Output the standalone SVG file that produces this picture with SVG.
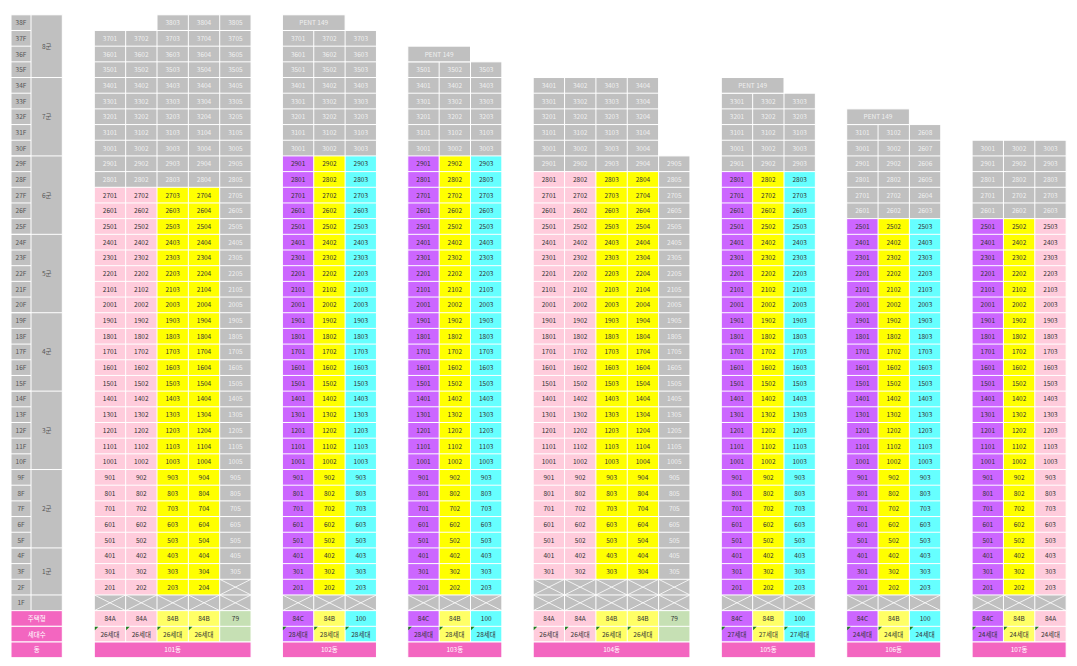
<svg xmlns="http://www.w3.org/2000/svg" xmlns:xlink="http://www.w3.org/1999/xlink" width="1077" height="666" viewBox="0 0 1077 666">
<style>
.g{fill:#c0c0c0}.pk{fill:#ffccdc}.ye{fill:#ffff00}.ly{fill:#ffff66}.pu{fill:#cc66ff}.cy{fill:#66ffff}.gr{fill:#c6e0b4}.mg{fill:#f366c0}
.s{stroke:#fff;stroke-width:1}
.gl{stroke:#fff;stroke-width:1;fill:none}
text{font-family:"Noto Sans CJK KR","Noto Sans",sans-serif;font-size:6.5px;text-anchor:middle}
.d{fill:#333}.l{fill:#f0f0f0}.w{fill:#fff}.f{fill:#555}
</style>
<defs>
<g id="xc"><rect width="31.35" height="15.68" fill="#c0c0c0"/><path d="M0 0L31.35 15.68M31.35 0L0 15.68" stroke="#fff" stroke-width="0.8"/></g>
<path id="tri" d="M0.5 0.5h3.5l-3.5 3.5z" fill="#1b7f1b"/>
<g id="g3" class="gl"><path d="M0 14.8V657.68M31.35 14.8V657.68M62.7 14.8V657.68M94.05 14.8V657.68"/><path d="M0 14.8h94.05m-94.05 15.68h94.05m-94.05 15.68h94.05m-94.05 15.68h94.05m-94.05 15.68h94.05m-94.05 15.68h94.05m-94.05 15.68h94.05m-94.05 15.68h94.05m-94.05 15.68h94.05m-94.05 15.68h94.05m-94.05 15.68h94.05m-94.05 15.68h94.05m-94.05 15.68h94.05m-94.05 15.68h94.05m-94.05 15.68h94.05m-94.05 15.68h94.05m-94.05 15.68h94.05m-94.05 15.68h94.05m-94.05 15.68h94.05m-94.05 15.68h94.05m-94.05 15.68h94.05m-94.05 15.68h94.05m-94.05 15.68h94.05m-94.05 15.68h94.05m-94.05 15.68h94.05m-94.05 15.68h94.05m-94.05 15.68h94.05m-94.05 15.68h94.05m-94.05 15.68h94.05m-94.05 15.68h94.05m-94.05 15.68h94.05m-94.05 15.68h94.05m-94.05 15.68h94.05m-94.05 15.68h94.05m-94.05 15.68h94.05m-94.05 15.68h94.05m-94.05 15.68h94.05m-94.05 15.68h94.05m-94.05 15.68h94.05m-94.05 15.68h94.05m-94.05 15.68h94.05m-94.05 15.68h94.05"/></g>
<g id="g5" class="gl"><path d="M0 14.8V657.68M31.35 14.8V657.68M62.7 14.8V657.68M94.05 14.8V657.68M125.4 14.8V657.68M156.75 14.8V657.68"/><path d="M0 14.8h156.75m-156.75 15.68h156.75m-156.75 15.68h156.75m-156.75 15.68h156.75m-156.75 15.68h156.75m-156.75 15.68h156.75m-156.75 15.68h156.75m-156.75 15.68h156.75m-156.75 15.68h156.75m-156.75 15.68h156.75m-156.75 15.68h156.75m-156.75 15.68h156.75m-156.75 15.68h156.75m-156.75 15.68h156.75m-156.75 15.68h156.75m-156.75 15.68h156.75m-156.75 15.68h156.75m-156.75 15.68h156.75m-156.75 15.68h156.75m-156.75 15.68h156.75m-156.75 15.68h156.75m-156.75 15.68h156.75m-156.75 15.68h156.75m-156.75 15.68h156.75m-156.75 15.68h156.75m-156.75 15.68h156.75m-156.75 15.68h156.75m-156.75 15.68h156.75m-156.75 15.68h156.75m-156.75 15.68h156.75m-156.75 15.68h156.75m-156.75 15.68h156.75m-156.75 15.68h156.75m-156.75 15.68h156.75m-156.75 15.68h156.75m-156.75 15.68h156.75m-156.75 15.68h156.75m-156.75 15.68h156.75m-156.75 15.68h156.75m-156.75 15.68h156.75m-156.75 15.68h156.75m-156.75 15.68h156.75"/></g>
</defs>
<rect width="1077" height="666" fill="#fff"/>

<g id="legend">
<rect class="g" x="11" y="14.8" width="51.3" height="595.84"/>
<path class="gl" d="M11 14.8V610.64M31 14.8V610.64M62.3 14.8V610.64M11 30.48h20m-20 15.68h20m-20 15.68h20m-20 15.68h20m-20 15.68h20m-20 15.68h20m-20 15.68h20m-20 15.68h20m-20 15.68h20m-20 15.68h20m-20 15.68h20m-20 15.68h20m-20 15.68h20m-20 15.68h20m-20 15.68h20m-20 15.68h20m-20 15.68h20m-20 15.68h20m-20 15.68h20m-20 15.68h20m-20 15.68h20m-20 15.68h20m-20 15.68h20m-20 15.68h20m-20 15.68h20m-20 15.68h20m-20 15.68h20m-20 15.68h20m-20 15.68h20m-20 15.68h20m-20 15.68h20m-20 15.68h20m-20 15.68h20m-20 15.68h20m-20 15.68h20m-20 15.68h20M11 14.8H62.3M11 77.52H62.3M11 155.92H62.3M11 234.32H62.3M11 312.72H62.3M11 391.12H62.3M11 469.52H62.3M11 547.92H62.3M11 594.96H62.3"/>
<rect class="mg s" x="11" y="610.64" width="51.3" height="15.68"/>
<rect class="mg s" x="11" y="626.32" width="51.3" height="15.68"/>
<rect class="mg s" x="11" y="642" width="51.3" height="15.68"/>
<g class="f" transform="translate(21,0)"><text y="25.1">38F</text><text y="40.8">37F</text><text y="56.5">36F</text><text y="72.1">35F</text><text y="87.8">34F</text><text y="103.5">33F</text><text y="119.2">32F</text><text y="134.9">31F</text><text y="150.5">30F</text><text y="166.2">29F</text><text y="181.9">28F</text><text y="197.6">27F</text><text y="213.3">26F</text><text y="228.9">25F</text><text y="244.6">24F</text><text y="260.3">23F</text><text y="276">22F</text><text y="291.7">21F</text><text y="307.3">20F</text><text y="323">19F</text><text y="338.7">18F</text><text y="354.4">17F</text><text y="370.1">16F</text><text y="385.7">15F</text><text y="401.4">14F</text><text y="417.1">13F</text><text y="432.8">12F</text><text y="448.5">11F</text><text y="464.1">10F</text><text y="479.8">9F</text><text y="495.5">8F</text><text y="511.2">7F</text><text y="526.9">6F</text><text y="542.5">5F</text><text y="558.2">4F</text><text y="573.9">3F</text><text y="589.6">2F</text><text y="605.3">1F</text></g>
<g class="f" transform="translate(46.7,0)"><text y="48.6">8군</text><text y="119.2">7군</text><text y="197.6">6군</text><text y="276">5군</text><text y="354.4">4군</text><text y="432.8">3군</text><text y="511.2">2군</text><text y="573.9">1군</text></g>
<g class="w" transform="translate(36.7,0)"><text y="620.9">주택형</text><text y="636.6">세대수</text><text y="652.3">동</text></g>
</g>

<g id="b101" transform="translate(94.3,0)">
<rect class="g" x="62.7" y="14.8" width="94.05" height="15.68"/>
<rect class="g" y="30.48" width="156.75" height="156.8"/>
<rect class="pk" y="187.28" width="62.7" height="407.68"/>
<rect class="ye" x="62.7" y="187.28" width="62.7" height="407.68"/>
<rect class="g" x="125.4" y="187.28" width="31.35" height="392"/>
<use href="#xc" x="125.4" y="579.28"/>
<use href="#xc" y="594.96"/><use href="#xc" x="31.35" y="594.96"/><use href="#xc" x="62.7" y="594.96"/><use href="#xc" x="94.05" y="594.96"/><use href="#xc" x="125.4" y="594.96"/>
<rect class="pk" y="610.64" width="62.7" height="31.36"/>
<rect class="ly" x="62.7" y="610.64" width="62.7" height="31.36"/>
<rect class="gr" x="125.4" y="610.64" width="31.35" height="31.36"/>
<use href="#g5"/>
<rect class="mg s" y="642" width="156.75" height="15.68"/>
<use href="#tri" y="626.32"/><use href="#tri" x="31.35" y="626.32"/><use href="#tri" x="62.7" y="626.32"/><use href="#tri" x="94.05" y="626.32"/>
<g class="l" transform="translate(15.7,0)"><text y="40.8">3701</text><text y="56.5">3601</text><text y="72.1">3501</text><text y="87.8">3401</text><text y="103.5">3301</text><text y="119.2">3201</text><text y="134.9">3101</text><text y="150.5">3001</text><text y="166.2">2901</text><text y="181.9">2801</text></g>
<g class="d" transform="translate(15.7,0)"><text y="197.6">2701</text><text y="213.3">2601</text><text y="228.9">2501</text><text y="244.6">2401</text><text y="260.3">2301</text><text y="276">2201</text><text y="291.7">2101</text><text y="307.3">2001</text><text y="323">1901</text><text y="338.7">1801</text><text y="354.4">1701</text><text y="370.1">1601</text><text y="385.7">1501</text><text y="401.4">1401</text><text y="417.1">1301</text><text y="432.8">1201</text><text y="448.5">1101</text><text y="464.1">1001</text><text y="479.8">901</text><text y="495.5">801</text><text y="511.2">701</text><text y="526.9">601</text><text y="542.5">501</text><text y="558.2">401</text><text y="573.9">301</text><text y="589.6">201</text><text y="620.9">84A</text><text y="636.6">26세대</text></g>
<g class="l" transform="translate(47,0)"><text y="40.8">3702</text><text y="56.5">3602</text><text y="72.1">3502</text><text y="87.8">3402</text><text y="103.5">3302</text><text y="119.2">3202</text><text y="134.9">3102</text><text y="150.5">3002</text><text y="166.2">2902</text><text y="181.9">2802</text></g>
<g class="d" transform="translate(47,0)"><text y="197.6">2702</text><text y="213.3">2602</text><text y="228.9">2502</text><text y="244.6">2402</text><text y="260.3">2302</text><text y="276">2202</text><text y="291.7">2102</text><text y="307.3">2002</text><text y="323">1902</text><text y="338.7">1802</text><text y="354.4">1702</text><text y="370.1">1602</text><text y="385.7">1502</text><text y="401.4">1402</text><text y="417.1">1302</text><text y="432.8">1202</text><text y="448.5">1102</text><text y="464.1">1002</text><text y="479.8">902</text><text y="495.5">802</text><text y="511.2">702</text><text y="526.9">602</text><text y="542.5">502</text><text y="558.2">402</text><text y="573.9">302</text><text y="589.6">202</text><text y="620.9">84A</text><text y="636.6">26세대</text></g>
<g class="l" transform="translate(78.4,0)"><text y="25.1">3803</text><text y="40.8">3703</text><text y="56.5">3603</text><text y="72.1">3503</text><text y="87.8">3403</text><text y="103.5">3303</text><text y="119.2">3203</text><text y="134.9">3103</text><text y="150.5">3003</text><text y="166.2">2903</text><text y="181.9">2803</text></g>
<g class="d" transform="translate(78.4,0)"><text y="197.6">2703</text><text y="213.3">2603</text><text y="228.9">2503</text><text y="244.6">2403</text><text y="260.3">2303</text><text y="276">2203</text><text y="291.7">2103</text><text y="307.3">2003</text><text y="323">1903</text><text y="338.7">1803</text><text y="354.4">1703</text><text y="370.1">1603</text><text y="385.7">1503</text><text y="401.4">1403</text><text y="417.1">1303</text><text y="432.8">1203</text><text y="448.5">1103</text><text y="464.1">1003</text><text y="479.8">903</text><text y="495.5">803</text><text y="511.2">703</text><text y="526.9">603</text><text y="542.5">503</text><text y="558.2">403</text><text y="573.9">303</text><text y="589.6">203</text><text y="620.9">84B</text><text y="636.6">26세대</text></g>
<g class="l" transform="translate(109.7,0)"><text y="25.1">3804</text><text y="40.8">3704</text><text y="56.5">3604</text><text y="72.1">3504</text><text y="87.8">3404</text><text y="103.5">3304</text><text y="119.2">3204</text><text y="134.9">3104</text><text y="150.5">3004</text><text y="166.2">2904</text><text y="181.9">2804</text></g>
<g class="d" transform="translate(109.7,0)"><text y="197.6">2704</text><text y="213.3">2604</text><text y="228.9">2504</text><text y="244.6">2404</text><text y="260.3">2304</text><text y="276">2204</text><text y="291.7">2104</text><text y="307.3">2004</text><text y="323">1904</text><text y="338.7">1804</text><text y="354.4">1704</text><text y="370.1">1604</text><text y="385.7">1504</text><text y="401.4">1404</text><text y="417.1">1304</text><text y="432.8">1204</text><text y="448.5">1104</text><text y="464.1">1004</text><text y="479.8">904</text><text y="495.5">804</text><text y="511.2">704</text><text y="526.9">604</text><text y="542.5">504</text><text y="558.2">404</text><text y="573.9">304</text><text y="589.6">204</text><text y="620.9">84B</text><text y="636.6">26세대</text></g>
<g class="l" transform="translate(141.1,0)"><text y="25.1">3805</text><text y="40.8">3705</text><text y="56.5">3605</text><text y="72.1">3505</text><text y="87.8">3405</text><text y="103.5">3305</text><text y="119.2">3205</text><text y="134.9">3105</text><text y="150.5">3005</text><text y="166.2">2905</text><text y="181.9">2805</text><text y="197.6">2705</text><text y="213.3">2605</text><text y="228.9">2505</text><text y="244.6">2405</text><text y="260.3">2305</text><text y="276">2205</text><text y="291.7">2105</text><text y="307.3">2005</text><text y="323">1905</text><text y="338.7">1805</text><text y="354.4">1705</text><text y="370.1">1605</text><text y="385.7">1505</text><text y="401.4">1405</text><text y="417.1">1305</text><text y="432.8">1205</text><text y="448.5">1105</text><text y="464.1">1005</text><text y="479.8">905</text><text y="495.5">805</text><text y="511.2">705</text><text y="526.9">605</text><text y="542.5">505</text><text y="558.2">405</text><text y="573.9">305</text></g>
<text class="d" x="141.1" y="620.9">79</text>
<text class="w" x="78.4" y="652.3">101동</text>
</g>

<g id="b102" transform="translate(282.4,0)">
<rect class="g" y="30.48" width="94.05" height="125.44"/>
<rect class="pu" y="155.92" width="31.35" height="439.04"/>
<rect class="ye" x="31.35" y="155.92" width="31.35" height="439.04"/>
<rect class="cy" x="62.7" y="155.92" width="31.35" height="439.04"/>
<use href="#xc" y="594.96"/><use href="#xc" x="31.35" y="594.96"/><use href="#xc" x="62.7" y="594.96"/>
<rect class="pu" y="610.64" width="31.35" height="31.36"/>
<rect class="ly" x="31.35" y="610.64" width="31.35" height="31.36"/>
<rect class="cy" x="62.7" y="610.64" width="31.35" height="31.36"/>
<use href="#g3"/>
<rect class="g s" y="14.8" width="62.7" height="15.68"/>
<rect class="mg s" y="642" width="94.05" height="15.68"/>
<use href="#tri" y="626.32"/><use href="#tri" x="31.35" y="626.32"/><use href="#tri" x="62.7" y="626.32"/>
<text class="l" x="31.35" y="25.1">PENT 149</text>
<g class="l" transform="translate(15.7,0)"><text y="40.8">3701</text><text y="56.5">3601</text><text y="72.1">3501</text><text y="87.8">3401</text><text y="103.5">3301</text><text y="119.2">3201</text><text y="134.9">3101</text><text y="150.5">3001</text></g>
<g class="d" transform="translate(15.7,0)"><text y="166.2">2901</text><text y="181.9">2801</text><text y="197.6">2701</text><text y="213.3">2601</text><text y="228.9">2501</text><text y="244.6">2401</text><text y="260.3">2301</text><text y="276">2201</text><text y="291.7">2101</text><text y="307.3">2001</text><text y="323">1901</text><text y="338.7">1801</text><text y="354.4">1701</text><text y="370.1">1601</text><text y="385.7">1501</text><text y="401.4">1401</text><text y="417.1">1301</text><text y="432.8">1201</text><text y="448.5">1101</text><text y="464.1">1001</text><text y="479.8">901</text><text y="495.5">801</text><text y="511.2">701</text><text y="526.9">601</text><text y="542.5">501</text><text y="558.2">401</text><text y="573.9">301</text><text y="589.6">201</text><text y="620.9">84C</text><text y="636.6">28세대</text></g>
<g class="l" transform="translate(47,0)"><text y="40.8">3702</text><text y="56.5">3602</text><text y="72.1">3502</text><text y="87.8">3402</text><text y="103.5">3302</text><text y="119.2">3202</text><text y="134.9">3102</text><text y="150.5">3002</text></g>
<g class="d" transform="translate(47,0)"><text y="166.2">2902</text><text y="181.9">2802</text><text y="197.6">2702</text><text y="213.3">2602</text><text y="228.9">2502</text><text y="244.6">2402</text><text y="260.3">2302</text><text y="276">2202</text><text y="291.7">2102</text><text y="307.3">2002</text><text y="323">1902</text><text y="338.7">1802</text><text y="354.4">1702</text><text y="370.1">1602</text><text y="385.7">1502</text><text y="401.4">1402</text><text y="417.1">1302</text><text y="432.8">1202</text><text y="448.5">1102</text><text y="464.1">1002</text><text y="479.8">902</text><text y="495.5">802</text><text y="511.2">702</text><text y="526.9">602</text><text y="542.5">502</text><text y="558.2">402</text><text y="573.9">302</text><text y="589.6">202</text><text y="620.9">84B</text><text y="636.6">28세대</text></g>
<g class="l" transform="translate(78.4,0)"><text y="40.8">3703</text><text y="56.5">3603</text><text y="72.1">3503</text><text y="87.8">3403</text><text y="103.5">3303</text><text y="119.2">3203</text><text y="134.9">3103</text><text y="150.5">3003</text></g>
<g class="d" transform="translate(78.4,0)"><text y="166.2">2903</text><text y="181.9">2803</text><text y="197.6">2703</text><text y="213.3">2603</text><text y="228.9">2503</text><text y="244.6">2403</text><text y="260.3">2303</text><text y="276">2203</text><text y="291.7">2103</text><text y="307.3">2003</text><text y="323">1903</text><text y="338.7">1803</text><text y="354.4">1703</text><text y="370.1">1603</text><text y="385.7">1503</text><text y="401.4">1403</text><text y="417.1">1303</text><text y="432.8">1203</text><text y="448.5">1103</text><text y="464.1">1003</text><text y="479.8">903</text><text y="495.5">803</text><text y="511.2">703</text><text y="526.9">603</text><text y="542.5">503</text><text y="558.2">403</text><text y="573.9">303</text><text y="589.6">203</text><text y="620.9">100</text><text y="636.6">28세대</text></g>
<text class="w" x="47" y="652.3">102동</text>
</g>

<g id="b103" transform="translate(407.8,0)">
<rect class="g" y="61.84" width="94.05" height="94.08"/>
<rect class="pu" y="155.92" width="31.35" height="439.04"/>
<rect class="ye" x="31.35" y="155.92" width="31.35" height="439.04"/>
<rect class="cy" x="62.7" y="155.92" width="31.35" height="439.04"/>
<use href="#xc" y="594.96"/><use href="#xc" x="31.35" y="594.96"/><use href="#xc" x="62.7" y="594.96"/>
<rect class="pu" y="610.64" width="31.35" height="31.36"/>
<rect class="ly" x="31.35" y="610.64" width="31.35" height="31.36"/>
<rect class="cy" x="62.7" y="610.64" width="31.35" height="31.36"/>
<use href="#g3"/>
<rect class="g s" y="46.16" width="62.7" height="15.68"/>
<rect class="mg s" y="642" width="94.05" height="15.68"/>
<use href="#tri" y="626.32"/><use href="#tri" x="31.35" y="626.32"/><use href="#tri" x="62.7" y="626.32"/>
<text class="l" x="31.35" y="56.5">PENT 149</text>
<g class="l" transform="translate(15.7,0)"><text y="72.1">3501</text><text y="87.8">3401</text><text y="103.5">3301</text><text y="119.2">3201</text><text y="134.9">3101</text><text y="150.5">3001</text></g>
<g class="d" transform="translate(15.7,0)"><text y="166.2">2901</text><text y="181.9">2801</text><text y="197.6">2701</text><text y="213.3">2601</text><text y="228.9">2501</text><text y="244.6">2401</text><text y="260.3">2301</text><text y="276">2201</text><text y="291.7">2101</text><text y="307.3">2001</text><text y="323">1901</text><text y="338.7">1801</text><text y="354.4">1701</text><text y="370.1">1601</text><text y="385.7">1501</text><text y="401.4">1401</text><text y="417.1">1301</text><text y="432.8">1201</text><text y="448.5">1101</text><text y="464.1">1001</text><text y="479.8">901</text><text y="495.5">801</text><text y="511.2">701</text><text y="526.9">601</text><text y="542.5">501</text><text y="558.2">401</text><text y="573.9">301</text><text y="589.6">201</text><text y="620.9">84C</text><text y="636.6">28세대</text></g>
<g class="l" transform="translate(47,0)"><text y="72.1">3502</text><text y="87.8">3402</text><text y="103.5">3302</text><text y="119.2">3202</text><text y="134.9">3102</text><text y="150.5">3002</text></g>
<g class="d" transform="translate(47,0)"><text y="166.2">2902</text><text y="181.9">2802</text><text y="197.6">2702</text><text y="213.3">2602</text><text y="228.9">2502</text><text y="244.6">2402</text><text y="260.3">2302</text><text y="276">2202</text><text y="291.7">2102</text><text y="307.3">2002</text><text y="323">1902</text><text y="338.7">1802</text><text y="354.4">1702</text><text y="370.1">1602</text><text y="385.7">1502</text><text y="401.4">1402</text><text y="417.1">1302</text><text y="432.8">1202</text><text y="448.5">1102</text><text y="464.1">1002</text><text y="479.8">902</text><text y="495.5">802</text><text y="511.2">702</text><text y="526.9">602</text><text y="542.5">502</text><text y="558.2">402</text><text y="573.9">302</text><text y="589.6">202</text><text y="620.9">84B</text><text y="636.6">28세대</text></g>
<g class="l" transform="translate(78.4,0)"><text y="72.1">3503</text><text y="87.8">3403</text><text y="103.5">3303</text><text y="119.2">3203</text><text y="134.9">3103</text><text y="150.5">3003</text></g>
<g class="d" transform="translate(78.4,0)"><text y="166.2">2903</text><text y="181.9">2803</text><text y="197.6">2703</text><text y="213.3">2603</text><text y="228.9">2503</text><text y="244.6">2403</text><text y="260.3">2303</text><text y="276">2203</text><text y="291.7">2103</text><text y="307.3">2003</text><text y="323">1903</text><text y="338.7">1803</text><text y="354.4">1703</text><text y="370.1">1603</text><text y="385.7">1503</text><text y="401.4">1403</text><text y="417.1">1303</text><text y="432.8">1203</text><text y="448.5">1103</text><text y="464.1">1003</text><text y="479.8">903</text><text y="495.5">803</text><text y="511.2">703</text><text y="526.9">603</text><text y="542.5">503</text><text y="558.2">403</text><text y="573.9">303</text><text y="589.6">203</text><text y="620.9">100</text><text y="636.6">28세대</text></g>
<text class="w" x="47" y="652.3">103동</text>
</g>

<g id="b104" transform="translate(533.2,0)">
<rect class="g" y="77.52" width="125.4" height="78.4"/>
<rect class="g" y="155.92" width="156.75" height="15.68"/>
<rect class="pk" y="171.6" width="62.7" height="407.68"/>
<rect class="ye" x="62.7" y="171.6" width="62.7" height="407.68"/>
<rect class="g" x="125.4" y="171.6" width="31.35" height="407.68"/>
<use href="#xc" y="579.28"/><use href="#xc" x="31.35" y="579.28"/><use href="#xc" x="62.7" y="579.28"/><use href="#xc" x="94.05" y="579.28"/><use href="#xc" x="125.4" y="579.28"/>
<use href="#xc" y="594.96"/><use href="#xc" x="31.35" y="594.96"/><use href="#xc" x="62.7" y="594.96"/><use href="#xc" x="94.05" y="594.96"/><use href="#xc" x="125.4" y="594.96"/>
<rect class="pk" y="610.64" width="62.7" height="31.36"/>
<rect class="ly" x="62.7" y="610.64" width="62.7" height="31.36"/>
<rect class="gr" x="125.4" y="610.64" width="31.35" height="31.36"/>
<use href="#g5"/>
<rect class="mg s" y="642" width="156.75" height="15.68"/>
<use href="#tri" y="626.32"/><use href="#tri" x="31.35" y="626.32"/><use href="#tri" x="62.7" y="626.32"/><use href="#tri" x="94.05" y="626.32"/>
<g class="l" transform="translate(15.7,0)"><text y="87.8">3401</text><text y="103.5">3301</text><text y="119.2">3201</text><text y="134.9">3101</text><text y="150.5">3001</text><text y="166.2">2901</text></g>
<g class="d" transform="translate(15.7,0)"><text y="181.9">2801</text><text y="197.6">2701</text><text y="213.3">2601</text><text y="228.9">2501</text><text y="244.6">2401</text><text y="260.3">2301</text><text y="276">2201</text><text y="291.7">2101</text><text y="307.3">2001</text><text y="323">1901</text><text y="338.7">1801</text><text y="354.4">1701</text><text y="370.1">1601</text><text y="385.7">1501</text><text y="401.4">1401</text><text y="417.1">1301</text><text y="432.8">1201</text><text y="448.5">1101</text><text y="464.1">1001</text><text y="479.8">901</text><text y="495.5">801</text><text y="511.2">701</text><text y="526.9">601</text><text y="542.5">501</text><text y="558.2">401</text><text y="573.9">301</text><text y="620.9">84A</text><text y="636.6">26세대</text></g>
<g class="l" transform="translate(47,0)"><text y="87.8">3402</text><text y="103.5">3302</text><text y="119.2">3202</text><text y="134.9">3102</text><text y="150.5">3002</text><text y="166.2">2902</text></g>
<g class="d" transform="translate(47,0)"><text y="181.9">2802</text><text y="197.6">2702</text><text y="213.3">2602</text><text y="228.9">2502</text><text y="244.6">2402</text><text y="260.3">2302</text><text y="276">2202</text><text y="291.7">2102</text><text y="307.3">2002</text><text y="323">1902</text><text y="338.7">1802</text><text y="354.4">1702</text><text y="370.1">1602</text><text y="385.7">1502</text><text y="401.4">1402</text><text y="417.1">1302</text><text y="432.8">1202</text><text y="448.5">1102</text><text y="464.1">1002</text><text y="479.8">902</text><text y="495.5">802</text><text y="511.2">702</text><text y="526.9">602</text><text y="542.5">502</text><text y="558.2">402</text><text y="573.9">302</text><text y="620.9">84A</text><text y="636.6">26세대</text></g>
<g class="l" transform="translate(78.4,0)"><text y="87.8">3403</text><text y="103.5">3303</text><text y="119.2">3203</text><text y="134.9">3103</text><text y="150.5">3003</text><text y="166.2">2903</text></g>
<g class="d" transform="translate(78.4,0)"><text y="181.9">2803</text><text y="197.6">2703</text><text y="213.3">2603</text><text y="228.9">2503</text><text y="244.6">2403</text><text y="260.3">2303</text><text y="276">2203</text><text y="291.7">2103</text><text y="307.3">2003</text><text y="323">1903</text><text y="338.7">1803</text><text y="354.4">1703</text><text y="370.1">1603</text><text y="385.7">1503</text><text y="401.4">1403</text><text y="417.1">1303</text><text y="432.8">1203</text><text y="448.5">1103</text><text y="464.1">1003</text><text y="479.8">903</text><text y="495.5">803</text><text y="511.2">703</text><text y="526.9">603</text><text y="542.5">503</text><text y="558.2">403</text><text y="573.9">303</text><text y="620.9">84B</text><text y="636.6">26세대</text></g>
<g class="l" transform="translate(109.7,0)"><text y="87.8">3404</text><text y="103.5">3304</text><text y="119.2">3204</text><text y="134.9">3104</text><text y="150.5">3004</text><text y="166.2">2904</text></g>
<g class="d" transform="translate(109.7,0)"><text y="181.9">2804</text><text y="197.6">2704</text><text y="213.3">2604</text><text y="228.9">2504</text><text y="244.6">2404</text><text y="260.3">2304</text><text y="276">2204</text><text y="291.7">2104</text><text y="307.3">2004</text><text y="323">1904</text><text y="338.7">1804</text><text y="354.4">1704</text><text y="370.1">1604</text><text y="385.7">1504</text><text y="401.4">1404</text><text y="417.1">1304</text><text y="432.8">1204</text><text y="448.5">1104</text><text y="464.1">1004</text><text y="479.8">904</text><text y="495.5">804</text><text y="511.2">704</text><text y="526.9">604</text><text y="542.5">504</text><text y="558.2">404</text><text y="573.9">304</text><text y="620.9">84B</text><text y="636.6">26세대</text></g>
<g class="l" transform="translate(141.1,0)"><text y="166.2">2905</text><text y="181.9">2805</text><text y="197.6">2705</text><text y="213.3">2605</text><text y="228.9">2505</text><text y="244.6">2405</text><text y="260.3">2305</text><text y="276">2205</text><text y="291.7">2105</text><text y="307.3">2005</text><text y="323">1905</text><text y="338.7">1805</text><text y="354.4">1705</text><text y="370.1">1605</text><text y="385.7">1505</text><text y="401.4">1405</text><text y="417.1">1305</text><text y="432.8">1205</text><text y="448.5">1105</text><text y="464.1">1005</text><text y="479.8">905</text><text y="495.5">805</text><text y="511.2">705</text><text y="526.9">605</text><text y="542.5">505</text><text y="558.2">405</text><text y="573.9">305</text></g>
<text class="d" x="141.1" y="620.9">79</text>
<text class="w" x="78.4" y="652.3">104동</text>
</g>

<g id="b105" transform="translate(721.3,0)">
<rect class="g" y="93.2" width="94.05" height="78.4"/>
<rect class="pu" y="171.6" width="31.35" height="423.36"/>
<rect class="ye" x="31.35" y="171.6" width="31.35" height="423.36"/>
<rect class="cy" x="62.7" y="171.6" width="31.35" height="423.36"/>
<use href="#xc" y="594.96"/><use href="#xc" x="31.35" y="594.96"/><use href="#xc" x="62.7" y="594.96"/>
<rect class="pu" y="610.64" width="31.35" height="31.36"/>
<rect class="ly" x="31.35" y="610.64" width="31.35" height="31.36"/>
<rect class="cy" x="62.7" y="610.64" width="31.35" height="31.36"/>
<use href="#g3"/>
<rect class="g s" y="77.52" width="62.7" height="15.68"/>
<rect class="mg s" y="642" width="94.05" height="15.68"/>
<use href="#tri" y="626.32"/><use href="#tri" x="31.35" y="626.32"/><use href="#tri" x="62.7" y="626.32"/>
<text class="l" x="31.35" y="87.8">PENT 149</text>
<g class="l" transform="translate(15.7,0)"><text y="103.5">3301</text><text y="119.2">3201</text><text y="134.9">3101</text><text y="150.5">3001</text><text y="166.2">2901</text></g>
<g class="d" transform="translate(15.7,0)"><text y="181.9">2801</text><text y="197.6">2701</text><text y="213.3">2601</text><text y="228.9">2501</text><text y="244.6">2401</text><text y="260.3">2301</text><text y="276">2201</text><text y="291.7">2101</text><text y="307.3">2001</text><text y="323">1901</text><text y="338.7">1801</text><text y="354.4">1701</text><text y="370.1">1601</text><text y="385.7">1501</text><text y="401.4">1401</text><text y="417.1">1301</text><text y="432.8">1201</text><text y="448.5">1101</text><text y="464.1">1001</text><text y="479.8">901</text><text y="495.5">801</text><text y="511.2">701</text><text y="526.9">601</text><text y="542.5">501</text><text y="558.2">401</text><text y="573.9">301</text><text y="589.6">201</text><text y="620.9">84C</text><text y="636.6">27세대</text></g>
<g class="l" transform="translate(47,0)"><text y="103.5">3302</text><text y="119.2">3202</text><text y="134.9">3102</text><text y="150.5">3002</text><text y="166.2">2902</text></g>
<g class="d" transform="translate(47,0)"><text y="181.9">2802</text><text y="197.6">2702</text><text y="213.3">2602</text><text y="228.9">2502</text><text y="244.6">2402</text><text y="260.3">2302</text><text y="276">2202</text><text y="291.7">2102</text><text y="307.3">2002</text><text y="323">1902</text><text y="338.7">1802</text><text y="354.4">1702</text><text y="370.1">1602</text><text y="385.7">1502</text><text y="401.4">1402</text><text y="417.1">1302</text><text y="432.8">1202</text><text y="448.5">1102</text><text y="464.1">1002</text><text y="479.8">902</text><text y="495.5">802</text><text y="511.2">702</text><text y="526.9">602</text><text y="542.5">502</text><text y="558.2">402</text><text y="573.9">302</text><text y="589.6">202</text><text y="620.9">84B</text><text y="636.6">27세대</text></g>
<g class="l" transform="translate(78.4,0)"><text y="103.5">3303</text><text y="119.2">3203</text><text y="134.9">3103</text><text y="150.5">3003</text><text y="166.2">2903</text></g>
<g class="d" transform="translate(78.4,0)"><text y="181.9">2803</text><text y="197.6">2703</text><text y="213.3">2603</text><text y="228.9">2503</text><text y="244.6">2403</text><text y="260.3">2303</text><text y="276">2203</text><text y="291.7">2103</text><text y="307.3">2003</text><text y="323">1903</text><text y="338.7">1803</text><text y="354.4">1703</text><text y="370.1">1603</text><text y="385.7">1503</text><text y="401.4">1403</text><text y="417.1">1303</text><text y="432.8">1203</text><text y="448.5">1103</text><text y="464.1">1003</text><text y="479.8">903</text><text y="495.5">803</text><text y="511.2">703</text><text y="526.9">603</text><text y="542.5">503</text><text y="558.2">403</text><text y="573.9">303</text><text y="589.6">203</text><text y="620.9">100</text><text y="636.6">27세대</text></g>
<text class="w" x="47" y="652.3">105동</text>
</g>

<g id="b106" transform="translate(846.7,0)">
<rect class="g" y="124.56" width="94.05" height="94.08"/>
<rect class="pu" y="218.64" width="31.35" height="376.32"/>
<rect class="ye" x="31.35" y="218.64" width="31.35" height="376.32"/>
<rect class="cy" x="62.7" y="218.64" width="31.35" height="376.32"/>
<use href="#xc" y="594.96"/><use href="#xc" x="31.35" y="594.96"/><use href="#xc" x="62.7" y="594.96"/>
<rect class="pu" y="610.64" width="31.35" height="31.36"/>
<rect class="ly" x="31.35" y="610.64" width="31.35" height="31.36"/>
<rect class="cy" x="62.7" y="610.64" width="31.35" height="31.36"/>
<use href="#g3"/>
<rect class="g s" y="108.88" width="62.7" height="15.68"/>
<rect class="mg s" y="642" width="94.05" height="15.68"/>
<use href="#tri" y="626.32"/><use href="#tri" x="31.35" y="626.32"/><use href="#tri" x="62.7" y="626.32"/>
<text class="l" x="31.35" y="119.2">PENT 149</text>
<g class="l" transform="translate(15.7,0)"><text y="134.9">3101</text><text y="150.5">3001</text><text y="166.2">2901</text><text y="181.9">2801</text><text y="197.6">2701</text><text y="213.3">2601</text></g>
<g class="d" transform="translate(15.7,0)"><text y="228.9">2501</text><text y="244.6">2401</text><text y="260.3">2301</text><text y="276">2201</text><text y="291.7">2101</text><text y="307.3">2001</text><text y="323">1901</text><text y="338.7">1801</text><text y="354.4">1701</text><text y="370.1">1601</text><text y="385.7">1501</text><text y="401.4">1401</text><text y="417.1">1301</text><text y="432.8">1201</text><text y="448.5">1101</text><text y="464.1">1001</text><text y="479.8">901</text><text y="495.5">801</text><text y="511.2">701</text><text y="526.9">601</text><text y="542.5">501</text><text y="558.2">401</text><text y="573.9">301</text><text y="589.6">201</text><text y="620.9">84C</text><text y="636.6">24세대</text></g>
<g class="l" transform="translate(47,0)"><text y="134.9">3102</text><text y="150.5">3002</text><text y="166.2">2902</text><text y="181.9">2802</text><text y="197.6">2702</text><text y="213.3">2602</text></g>
<g class="d" transform="translate(47,0)"><text y="228.9">2502</text><text y="244.6">2402</text><text y="260.3">2302</text><text y="276">2202</text><text y="291.7">2102</text><text y="307.3">2002</text><text y="323">1902</text><text y="338.7">1802</text><text y="354.4">1702</text><text y="370.1">1602</text><text y="385.7">1502</text><text y="401.4">1402</text><text y="417.1">1302</text><text y="432.8">1202</text><text y="448.5">1102</text><text y="464.1">1002</text><text y="479.8">902</text><text y="495.5">802</text><text y="511.2">702</text><text y="526.9">602</text><text y="542.5">502</text><text y="558.2">402</text><text y="573.9">302</text><text y="589.6">202</text><text y="620.9">84B</text><text y="636.6">24세대</text></g>
<g class="l" transform="translate(78.4,0)"><text y="134.9">2608</text><text y="150.5">2607</text><text y="166.2">2606</text><text y="181.9">2605</text><text y="197.6">2604</text><text y="213.3">2603</text></g>
<g class="d" transform="translate(78.4,0)"><text y="228.9">2503</text><text y="244.6">2403</text><text y="260.3">2303</text><text y="276">2203</text><text y="291.7">2103</text><text y="307.3">2003</text><text y="323">1903</text><text y="338.7">1803</text><text y="354.4">1703</text><text y="370.1">1603</text><text y="385.7">1503</text><text y="401.4">1403</text><text y="417.1">1303</text><text y="432.8">1203</text><text y="448.5">1103</text><text y="464.1">1003</text><text y="479.8">903</text><text y="495.5">803</text><text y="511.2">703</text><text y="526.9">603</text><text y="542.5">503</text><text y="558.2">403</text><text y="573.9">303</text><text y="589.6">203</text><text y="620.9">100</text><text y="636.6">24세대</text></g>
<text class="w" x="47" y="652.3">106동</text>
</g>

<g id="b107" transform="translate(972.1,0)">
<rect class="g" y="140.24" width="94.05" height="78.4"/>
<rect class="pu" y="218.64" width="31.35" height="376.32"/>
<rect class="ye" x="31.35" y="218.64" width="31.35" height="376.32"/>
<rect class="pk" x="62.7" y="218.64" width="31.35" height="376.32"/>
<use href="#xc" y="594.96"/><use href="#xc" x="31.35" y="594.96"/><use href="#xc" x="62.7" y="594.96"/>
<rect class="pu" y="610.64" width="31.35" height="31.36"/>
<rect class="ly" x="31.35" y="610.64" width="31.35" height="31.36"/>
<rect class="pk" x="62.7" y="610.64" width="31.35" height="31.36"/>
<use href="#g3"/>
<rect class="mg s" y="642" width="94.05" height="15.68"/>
<use href="#tri" y="626.32"/><use href="#tri" x="31.35" y="626.32"/><use href="#tri" x="62.7" y="626.32"/>
<g class="l" transform="translate(15.7,0)"><text y="150.5">3001</text><text y="166.2">2901</text><text y="181.9">2801</text><text y="197.6">2701</text><text y="213.3">2601</text></g>
<g class="d" transform="translate(15.7,0)"><text y="228.9">2501</text><text y="244.6">2401</text><text y="260.3">2301</text><text y="276">2201</text><text y="291.7">2101</text><text y="307.3">2001</text><text y="323">1901</text><text y="338.7">1801</text><text y="354.4">1701</text><text y="370.1">1601</text><text y="385.7">1501</text><text y="401.4">1401</text><text y="417.1">1301</text><text y="432.8">1201</text><text y="448.5">1101</text><text y="464.1">1001</text><text y="479.8">901</text><text y="495.5">801</text><text y="511.2">701</text><text y="526.9">601</text><text y="542.5">501</text><text y="558.2">401</text><text y="573.9">301</text><text y="589.6">201</text><text y="620.9">84C</text><text y="636.6">24세대</text></g>
<g class="l" transform="translate(47,0)"><text y="150.5">3002</text><text y="166.2">2902</text><text y="181.9">2802</text><text y="197.6">2702</text><text y="213.3">2602</text></g>
<g class="d" transform="translate(47,0)"><text y="228.9">2502</text><text y="244.6">2402</text><text y="260.3">2302</text><text y="276">2202</text><text y="291.7">2102</text><text y="307.3">2002</text><text y="323">1902</text><text y="338.7">1802</text><text y="354.4">1702</text><text y="370.1">1602</text><text y="385.7">1502</text><text y="401.4">1402</text><text y="417.1">1302</text><text y="432.8">1202</text><text y="448.5">1102</text><text y="464.1">1002</text><text y="479.8">902</text><text y="495.5">802</text><text y="511.2">702</text><text y="526.9">602</text><text y="542.5">502</text><text y="558.2">402</text><text y="573.9">302</text><text y="589.6">202</text><text y="620.9">84B</text><text y="636.6">24세대</text></g>
<g class="l" transform="translate(78.4,0)"><text y="150.5">3003</text><text y="166.2">2903</text><text y="181.9">2803</text><text y="197.6">2703</text><text y="213.3">2603</text></g>
<g class="d" transform="translate(78.4,0)"><text y="228.9">2503</text><text y="244.6">2403</text><text y="260.3">2303</text><text y="276">2203</text><text y="291.7">2103</text><text y="307.3">2003</text><text y="323">1903</text><text y="338.7">1803</text><text y="354.4">1703</text><text y="370.1">1603</text><text y="385.7">1503</text><text y="401.4">1403</text><text y="417.1">1303</text><text y="432.8">1203</text><text y="448.5">1103</text><text y="464.1">1003</text><text y="479.8">903</text><text y="495.5">803</text><text y="511.2">703</text><text y="526.9">603</text><text y="542.5">503</text><text y="558.2">403</text><text y="573.9">303</text><text y="589.6">203</text><text y="620.9">84A</text><text y="636.6">24세대</text></g>
<text class="w" x="47" y="652.3">107동</text>
</g>
</svg>
